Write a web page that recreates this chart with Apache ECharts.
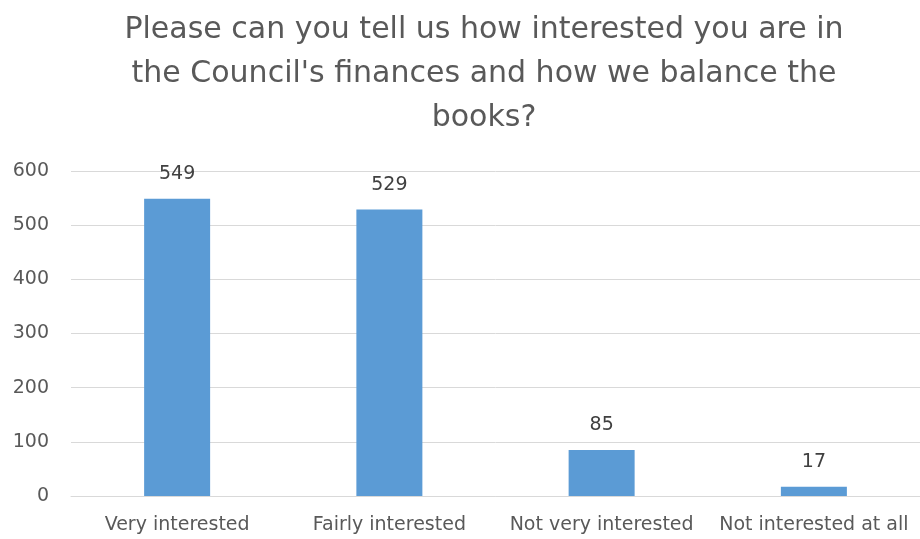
<!DOCTYPE html>
<html><head><meta charset="utf-8">
<script src="https://cdn.jsdelivr.net/npm/echarts@6/dist/echarts.min.js"></script>
<style>html,body{margin:0;padding:0;background:#fff}#c{width:920px;height:539px}</style>
</head><body><div id="c"></div>
<script>
const titleText = "Please can you tell us how interested you are in\nthe Council's finances and how we balance the\nbooks?";
const categories = ["Very interested", "Fairly interested", "Not very interested", "Not interested at all"];
const values = [549, 529, 85, 17];
const yTicks = {min: 0, max: 600, interval: 100};

const chart = echarts.init(document.getElementById('c'), null, {renderer: 'canvas'});
const FONT = "'DejaVu Sans', sans-serif";
chart.setOption({
  animation: false,
  title: {
    text: titleText, left: 479, textAlign: 'center', top: 3,
    textStyle: {fontFamily: FONT, fontSize: 30, fontWeight: 'normal', color: '#595959', lineHeight: 44}
  },
  grid: {left: 71, width: 855, top: 171, bottom: 43, containLabel: false},
  xAxis: {
    type: 'category', data: categories,
    axisLine: {lineStyle: {color: '#d9d9d9'}}, axisTick: {show: false},
    axisLabel: {fontFamily: FONT, fontSize: 19, color: '#595959', margin: 20, interval: 0}
  },
  yAxis: {
    type: 'value', min: yTicks.min, max: yTicks.max, interval: yTicks.interval,
    axisLine: {show: false}, axisTick: {show: false},
    splitLine: {lineStyle: {color: '#d9d9d9', width: 1}},
    axisLabel: {fontFamily: FONT, fontSize: 19, color: '#595959', margin: 22}
  },
  series: [{
    type: 'bar', data: values, barWidth: 66,
    itemStyle: {color: '#5b9bd5'},
    label: {show: true, position: 'top', distance: 15, fontFamily: FONT, fontSize: 19, color: '#404040'}
  }]
});
</script></body></html>
